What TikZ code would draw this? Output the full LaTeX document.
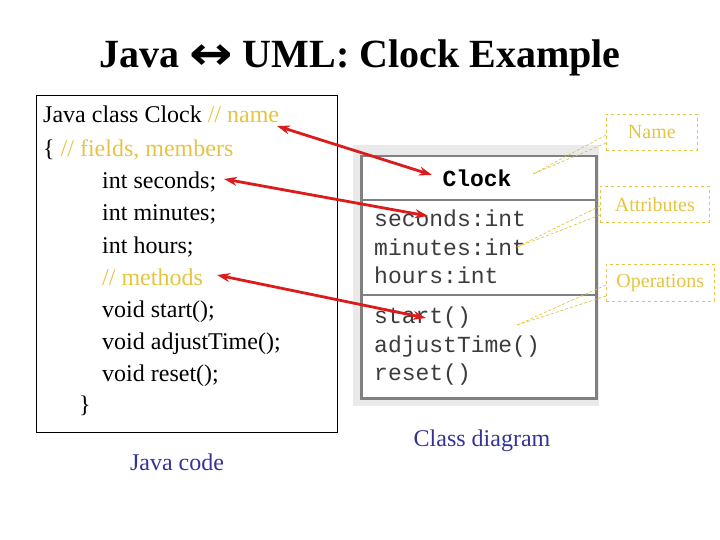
\documentclass[tikz,border=0pt]{standalone}
\usepackage{fontspec}
\usepackage{graphicx}
\setmainfont{Liberation Serif}
\setmonofont{Liberation Mono}
\newfontfamily\dejavubold{DejaVu Sans}[BoldFont=DejaVu Sans Bold]
\usetikzlibrary{arrows.meta}
\definecolor{cmt}{RGB}{228,196,66}
\definecolor{navy}{RGB}{51,51,153}
\definecolor{umlbg}{RGB}{234,234,234}
\definecolor{umlbd}{RGB}{128,128,128}
\definecolor{umltx}{RGB}{60,60,60}
\definecolor{arr}{RGB}{218,28,28}
\tikzset{
  code/.style={anchor=base west, inner sep=0pt, font=\fontsize{24}{24}\selectfont},
  mono/.style={anchor=base west, inner sep=0pt, font=\fontsize{23}{23}\selectfont\ttfamily, text=umltx},
  callbox/.style={draw=cmt, dashed, line width=0.7pt, text=cmt, font=\fontsize{20}{20}\selectfont, inner sep=0pt},
  callline/.style={draw=cmt, line width=0.7pt, dash pattern=on 3pt off 2pt},
  redarrow/.style={draw=arr, line width=2.8pt, {Stealth[length=13pt,width=9pt]}-{Stealth[length=13pt,width=9pt]}},
  caption/.style={anchor=base, inner sep=0pt, text=navy, font=\fontsize{24}{24}\selectfont}
}
\begin{document}
\begin{tikzpicture}[x=1pt,y=-1pt]
\useasboundingbox (0,0) rectangle (720,540);
% title
\node[anchor=base, inner sep=0pt, font=\fontsize{40}{40}\selectfont\bfseries] (title) at (360,68) {Java \raisebox{-2pt}{\scalebox{1.3}[1.15]{\dejavubold\bfseries ↔}} UML: Clock Example};
% java code box
\node[draw=black, line width=0.8pt, minimum width=301pt, minimum height=337pt, anchor=north west, inner sep=0pt] (codebox) at (36,95) {};
\node[code] (l1) at (43,123) {Java class Clock \textcolor{cmt}{// name}};
\node[code] (l2) at (43,157) {\{ \textcolor{cmt}{// fields, members}};
\node[code] (l3) at (102,189) {int seconds;};
\node[code] (l4) at (102,221) {int minutes;};
\node[code] (l5) at (102,253) {int hours;};
\node[code, text=cmt] (l6) at (102,285) {// methods};
\node[code] (l7) at (102,317) {void start();};
\node[code] (l8) at (102,349) {void adjustTime();};
\node[code] (l9) at (102,381) {void reset();};
\node[code] (l10) at (79,412) {\}};
\node[caption] (jcap) at (177,470) {Java code};
% UML class
\fill[umlbg] (353,145) rectangle (599,406);
\node[draw=umlbd, fill=white, line width=2.5pt, minimum width=235pt, minimum height=242pt, anchor=north west, inner sep=0pt] (cls) at (360,155) {};
\draw[umlbd, line width=2.5pt] (360,200) -- (595,200);
\draw[umlbd, line width=2.5pt] (360,295) -- (595,295);
\node[anchor=base, inner sep=0pt, font=\fontsize{23}{23}\selectfont\ttfamily\bfseries] (cname) at (477,187) {Clock};
\node[mono] (a1) at (374,226) {seconds:int};
\node[mono] (a2) at (374,255) {minutes:int};
\node[mono] (a3) at (374,283) {hours:int};
\node[mono] (o1) at (374,323) {start()};
\node[mono] (o2) at (374,352) {adjustTime()};
\node[mono] (o3) at (374,380) {reset()};
\node[caption] (ccap) at (482,446) {Class diagram};
% callouts
\node[callbox, minimum width=91pt, minimum height=36pt, anchor=north west] (cbname) at (606,114) {Name};
\node[callbox, minimum width=109pt, minimum height=36pt, anchor=north west] (cbattr) at (600,186) {Attributes};
\node[callbox, minimum width=108pt, minimum height=37pt, anchor=north west] (cbops) at (606,264) {Operations};
\coordinate (pname) at (533,174);
\coordinate (pattr) at (515,248);
\coordinate (pops) at (517,325);
\draw[callline] (cbname.west |- 0,135) -- (pname);
\draw[callline] (cbname.west |- 0,143) -- (pname);
\draw[callline] (cbattr.west |- 0,206) -- (pattr);
\draw[callline] (cbattr.west |- 0,215) -- (pattr);
\draw[callline] (cbops.west |- 0,285) -- (pops);
\draw[callline] (cbops.west |- 0,296) -- (pops);
% red arrows
\coordinate (e1a) at (277,126);
\coordinate (e1b) at (432,175);
\coordinate (e2a) at (224,179);
\coordinate (e2b) at (428,216);
\coordinate (e3a) at (217,275);
\coordinate (e3b) at (426,318);
\draw[redarrow] (e1a) -- (e1b);
\draw[redarrow] (e2a) -- (e2b);
\draw[redarrow] (e3a) -- (e3b);
\end{tikzpicture}
\end{document}
